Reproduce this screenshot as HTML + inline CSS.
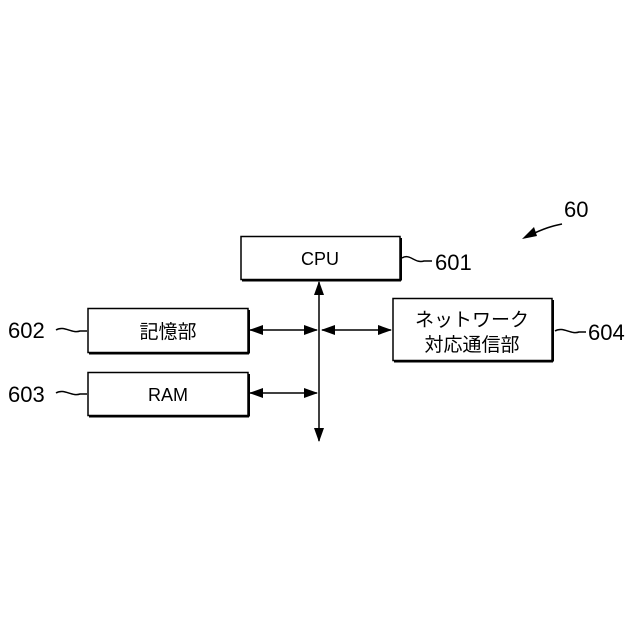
<!DOCTYPE html>
<html><head><meta charset="utf-8"><style>
html,body{margin:0;padding:0;background:#fff;}
</style></head><body>
<svg width="640" height="640" viewBox="0 0 640 640" xmlns="http://www.w3.org/2000/svg" style="display:block">
<defs>
<marker id="a" markerWidth="14" markerHeight="10" refX="13" refY="5" orient="auto-start-reverse" markerUnits="userSpaceOnUse">
<path d="M0,0 L14,5 L0,10 Z" fill="#000"/></marker>
</defs>
<g fill="#fff" stroke="#000" stroke-width="1.5">
<rect x="241" y="236.5" width="159" height="43"/>
<rect x="88" y="308.5" width="160" height="44"/>
<rect x="88" y="372.5" width="160" height="43"/>
<rect x="393" y="298.5" width="159" height="62"/>
</g>
<g stroke="#000" stroke-width="2">
<line x1="242" y1="280.5" x2="401" y2="280.5"/><line x1="401" y1="238" x2="401" y2="280.5"/>
<line x1="89" y1="353.5" x2="249" y2="353.5"/><line x1="249" y1="310" x2="249" y2="353.5"/>
<line x1="89" y1="416.5" x2="249" y2="416.5"/><line x1="249" y1="374" x2="249" y2="416.5"/>
<line x1="394" y1="361.5" x2="553" y2="361.5"/><line x1="553" y1="300" x2="553" y2="361.5"/>
</g>
<g stroke="#000" stroke-width="1.5" fill="none">
<line x1="319" y1="282" x2="319" y2="441" marker-start="url(#a)" marker-end="url(#a)"/>
<line x1="250" y1="330" x2="317" y2="330" marker-start="url(#a)" marker-end="url(#a)"/>
<line x1="322" y1="330" x2="391" y2="330" marker-start="url(#a)" marker-end="url(#a)"/>
<line x1="250" y1="393" x2="317" y2="393" marker-start="url(#a)" marker-end="url(#a)"/>
<path d="M402,258 C410,253 415,264 424,261 L432,261"/>
<path d="M56,330 C64,325 72,334 80,331 L87,331"/>
<path d="M56,393 C64,388 72,397 80,394 L87,394"/>
<path d="M555,331 C563,326 571,335 579,332 L586,332"/>
<path d="M562,224 C552,226 545,228 528,236"/>
</g>
<path d="M522,239 L534,227 L537,236 Z" fill="#000"/>
<g font-family="Liberation Sans, Noto Sans CJK JP, sans-serif" fill="#000">
<text x="320" y="265" font-size="18" text-anchor="middle">CPU</text>
<text x="168" y="338" font-size="19" text-anchor="middle">記憶部</text>
<text x="168" y="401" font-size="18" text-anchor="middle">RAM</text>
<text x="472" y="326" font-size="19" text-anchor="middle">ネットワーク</text>
<text x="472" y="351" font-size="19" text-anchor="middle">対応通信部</text>
<g font-size="22">
<text x="435" y="270">601</text>
<text x="8" y="338">602</text>
<text x="8" y="402">603</text>
<text x="588" y="340">604</text>
<text x="564" y="217">60</text>
</g>
</g>
</svg>
</body></html>
